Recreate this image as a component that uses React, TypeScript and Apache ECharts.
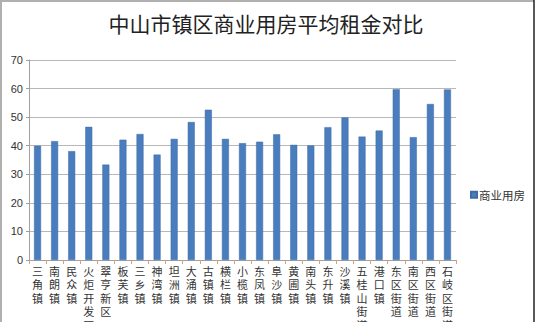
import React, { useEffect, useRef } from "react";
import * as echarts from "echarts";

const categories = [
  "三角镇", "南朗镇", "民众镇", "火炬开发区", "翠亨新区", "板芙镇", "三乡镇", "神湾镇", "坦洲镇",
  "大涌镇", "古镇镇", "横栏镇", "小榄镇", "东凤镇", "阜沙镇", "黄圃镇", "南头镇", "东升镇",
  "沙溪镇", "五桂山街道", "港口镇", "东区街道", "南区街道", "西区街道", "石岐区街道",
];
const commercialRent = [
  40.0, 41.6, 38.1, 46.6, 33.4, 42.1, 44.1, 36.9, 42.4,
  48.3, 52.6, 42.4, 40.9, 41.4, 44.0, 40.3, 40.1, 46.5,
  49.9, 43.2, 45.3, 59.8, 43.0, 54.6, 59.7,
];
const seriesName = "商业用房";
const titleText = "中山市镇区商业用房平均租金对比";

export default function App() {
  const ref = useRef<HTMLDivElement>(null);
  useEffect(() => {
    if (!ref.current) return;
    const chart = echarts.init(ref.current, undefined, { renderer: "svg" });
    chart.setOption({
      animation: false,
      backgroundColor: "#ffffff",
      title: {
        text: titleText,
        left: 261,
        textAlign: "center",
        top: 7,
        textStyle: {
          fontFamily: "Noto Sans CJK SC",
          fontSize: 21,
          fontWeight: "normal",
          color: "#222",
        },
      },
      legend: {
        data: [seriesName],
        left: 465,
        top: 184,
        orient: "vertical",
        itemWidth: 6,
        itemHeight: 6,
        itemGap: 4,
        icon: "rect",
        textStyle: { fontFamily: "Noto Sans CJK SC", fontSize: 11.5, color: "#333", padding: [0, 0, 0, -3] },
      },
      grid: { left: 29, right: 84, top: 60, bottom: 62, outerBoundsMode: "none", containLabel: false },
      xAxis: {
        type: "category",
        data: categories,
        axisLine: { lineStyle: { color: "#a0a0a0" } },
        axisTick: { show: true, length: 4, lineStyle: { color: "#d8a080" } },
        axisLabel: {
          interval: 0,
          margin: 4,
          fontFamily: "Noto Sans CJK SC",
          fontSize: 11,
          lineHeight: 13.5,
          color: "#333",
          formatter: (v: string) => v.split("").join("\n"),
        },
      },
      yAxis: {
        type: "value",
        min: 0,
        max: 70,
        interval: 10,
        axisLine: { show: true, lineStyle: { color: "#a0a0a0" } },
        axisTick: { show: true, length: 3, lineStyle: { color: "#a0a0a0" } },
        splitLine: { lineStyle: { color: "#b8b8b8" } },
        axisLabel: { fontFamily: "Liberation Sans", fontSize: 11, color: "#333", margin: 6 },
      },
      series: [
        {
          name: seriesName,
          type: "bar",
          data: commercialRent,
          barWidth: 7,
          itemStyle: { color: "#4a7dbd", borderColor: "#3e6ba6", borderWidth: 0.5 },
        },
      ],
      graphic: [
        { type: "line", shape: { x1: 0, y1: 1, x2: 534, y2: 1 }, style: { stroke: "#b0b0b0", lineWidth: 2 } },
        { type: "line", shape: { x1: 1, y1: 0, x2: 1, y2: 322 }, style: { stroke: "#b0b0b0", lineWidth: 2 } },
        { type: "line", shape: { x1: 534, y1: 0, x2: 534, y2: 322 }, style: { stroke: "#222", lineWidth: 1.5 } },
      ],
    });
    return () => chart.dispose();
  }, []);
  return (
    <div
      ref={ref}
      style={{ position: "fixed", left: 0, top: 0, width: 540, height: 322 }}
    />
  );
}
